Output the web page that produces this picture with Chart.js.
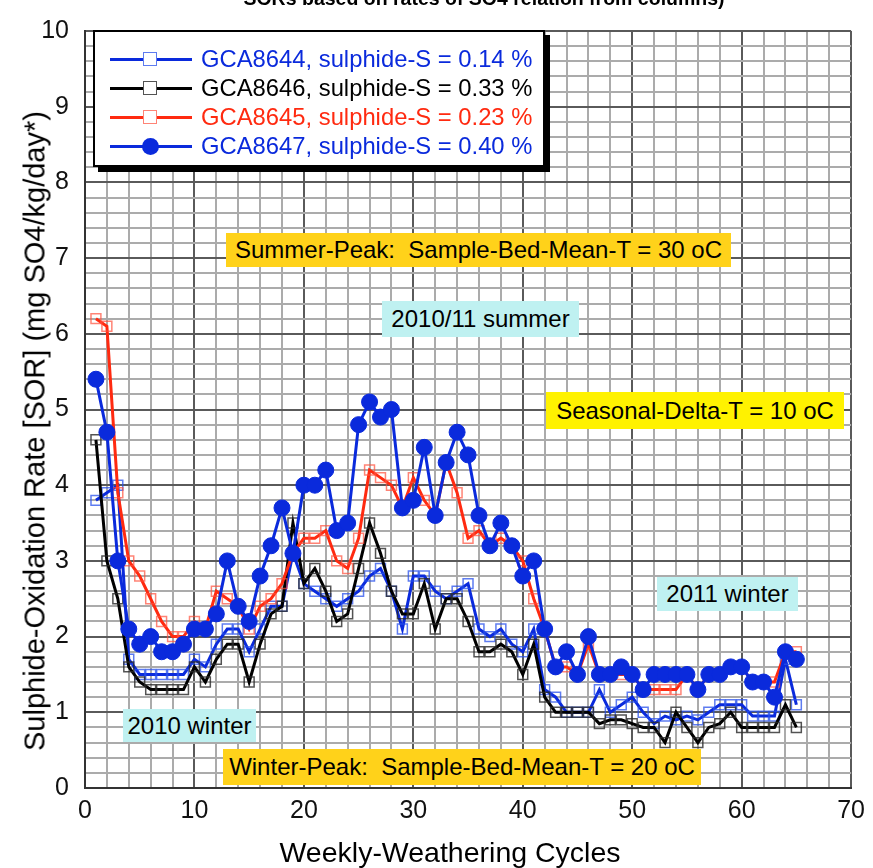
<!DOCTYPE html>
<html>
<head>
<meta charset="utf-8">
<title>Sulphide-Oxidation Rate</title>
<script src="https://cdn.jsdelivr.net/npm/chart.js@4.4.1/dist/chart.umd.min.js"></script>
<style>
body{margin:0;background:#fff;font-family:"Liberation Sans",Arial,sans-serif;}
#wrap{position:relative;width:873px;height:868px;overflow:hidden;background:#fff;}
#wrap canvas{position:absolute;left:0;top:0;}
.txt{position:absolute;white-space:pre;color:#000;}
.note{position:absolute;box-sizing:border-box;display:flex;align-items:center;justify-content:center;font-size:24px;color:#000;white-space:pre;}
#legend{position:absolute;left:93px;top:30px;width:452px;height:137px;box-sizing:border-box;border:2px solid #000;background:#fff;box-shadow:5px 5px 0 #000;}
.row{position:absolute;left:0;height:26px;font-size:23.8px;line-height:26px;white-space:pre;}
.ln{position:absolute;left:15px;width:82px;height:3px;top:12px;}
.mk{position:absolute;box-sizing:border-box;}
.lbl{position:absolute;left:106px;top:0;}
</style>
</head>
<body>
<div id="wrap">
  <canvas id="grafSOR" width="873" height="868"></canvas>
  <div class="txt" style="left:484px;top:-14px;transform:translateX(-50%);font-size:19.5px;font-weight:bold;line-height:24px;">SORs based on rates of SO4 relation from columns)</div>
  <div class="txt" style="left:35px;top:431px;transform:translate(-50%,-50%) rotate(-90deg);font-size:29px;">Sulphide-Oxidation Rate [SOR] (mg SO4/kg/day*)</div>
  <div class="txt" style="left:450px;top:852px;transform:translate(-50%,-50%);font-size:28.5px;">Weekly-Weathering Cycles</div>
  <div class="note" style="left:226px;top:233px;width:505px;height:34px;background:#ffd21a;">Summer-Peak:  Sample-Bed-Mean-T = 30 oC</div>
  <div class="note" style="left:382px;top:301px;width:197px;height:36px;background:#bff1f1;">2010/11 summer</div>
  <div class="note" style="left:546px;top:392px;width:298px;height:37px;background:#fff200;">Seasonal-Delta-T = 10 oC</div>
  <div class="note" style="left:657px;top:577px;width:141px;height:34px;background:#bff1f1;">2011 winter</div>
  <div class="note" style="left:123px;top:709px;width:133px;height:33px;background:#bff1f1;">2010 winter</div>
  <div class="note" style="left:223px;top:749px;width:478px;height:36px;background:#ffd21a;">Winter-Peak:  Sample-Bed-Mean-T = 20 oC</div>
  <div id="legend"></div>
</div>
<script>
/* =====================================
   DATOS
===================================== */

const ciclos = [
  1,2,3,4,5,6,7,8,9,10,11,12,13,14,15,16,17,18,19,20,
  21,22,23,24,25,26,27,28,29,30,31,32,33,34,35,36,37,38,39,40,
  41,42,43,44,45,46,47,48,49,50,51,52,53,54,55,56,57,58,59,60,
  61,62,63,64,65
];

// GCA8644, sulphide-S = 0.14 %
const sorGCA8644 = [
  3.8,3.9,4.0,1.7,1.5,1.5,1.5,1.5,1.5,1.7,1.6,1.9,2.1,2.1,1.8,2.1,2.4,2.4,3.1,2.7,
  2.6,2.5,2.4,2.5,2.6,2.8,2.9,2.6,2.1,2.8,2.8,2.6,2.5,2.6,2.7,2.1,2.0,2.1,1.9,1.8,
  2.1,1.3,1.2,1.0,1.0,1.0,1.3,1.0,1.1,1.2,1.0,0.85,0.95,0.9,0.95,0.9,1.0,1.1,1.1,1.1,
  0.95,0.95,0.95,1.7,1.1
];

// GCA8646, sulphide-S = 0.33 %
const sorGCA8646 = [
  4.6,3.0,2.5,1.6,1.4,1.3,1.3,1.3,1.3,1.6,1.4,1.7,1.9,1.9,1.4,1.9,2.3,2.4,3.5,2.7,
  2.9,2.6,2.2,2.3,2.9,3.5,3.1,2.6,2.3,2.3,2.7,2.1,2.5,2.5,2.2,1.8,1.8,1.9,1.8,1.5,
  1.9,1.2,1.0,1.0,1.0,1.0,0.85,0.9,0.9,0.85,0.8,0.8,0.6,1.0,0.8,0.6,0.8,0.85,1.0,0.8,
  0.8,0.8,0.8,1.1,0.8
];

// GCA8645, sulphide-S = 0.23 %
const sorGCA8645 = [
  6.2,6.1,3.9,3.0,2.8,2.5,2.2,2.0,2.0,2.2,2.1,2.6,2.5,2.4,2.1,2.4,2.5,2.7,3.1,3.3,
  3.3,3.4,3.0,2.9,3.3,4.2,4.1,4.0,3.7,4.1,3.8,3.6,4.3,3.9,3.3,3.4,3.2,3.3,3.2,3.0,
  2.5,2.1,1.6,1.6,1.5,1.9,1.5,1.5,1.5,1.5,1.3,1.3,1.3,1.3,1.5,1.3,1.5,1.5,1.6,1.6,
  1.4,1.4,1.4,1.8,1.8
];

// GCA8647, sulphide-S = 0.40 %
const sorGCA8647 = [
  5.4,4.7,3.0,2.1,1.9,2.0,1.8,1.8,1.9,2.1,2.1,2.3,3.0,2.4,2.2,2.8,3.2,3.7,3.1,4.0,
  4.0,4.2,3.4,3.5,4.8,5.1,4.9,5.0,3.7,3.8,4.5,3.6,4.3,4.7,4.4,3.6,3.2,3.5,3.2,2.8,
  3.0,2.1,1.6,1.8,1.5,2.0,1.5,1.5,1.6,1.5,1.3,1.5,1.5,1.5,1.5,1.3,1.5,1.5,1.6,1.6,
  1.4,1.4,1.2,1.8,1.7
];

const nombres = [
  "GCA8644, sulphide-S = 0.14 %",
  "GCA8646, sulphide-S = 0.33 %",
  "GCA8645, sulphide-S = 0.23 %",
  "GCA8647, sulphide-S = 0.40 %"
];

const AZUL = "#0a2adc";
const ROJO = "#ff2a10";

/* =====================================
   SERIES
===================================== */

function puntos(valores){
    return valores.map((v,i)=>({x:ciclos[i], y:v}));
}

const series = [
    {label:nombres[0], data:puntos(sorGCA8644), color:AZUL, texto:AZUL, marca:"rgba(40,80,235,0.75)", tipo:"rect", orden:3},
    {label:nombres[1], data:puntos(sorGCA8646), color:"#000", texto:"#000", marca:"rgba(40,40,40,0.8)", tipo:"rect", orden:2},
    {label:nombres[2], data:puntos(sorGCA8645), color:ROJO, texto:ROJO, marca:"rgba(255,80,60,0.7)", tipo:"rect", orden:1},
    {label:nombres[3], data:puntos(sorGCA8647), color:AZUL, texto:AZUL, marca:AZUL, tipo:"circle", orden:0}
];

/* =====================================
   LEYENDA
===================================== */

const leyenda = document.getElementById("legend");
const filasY = [14, 43, 72, 101];

series.forEach((s,i)=>{
    const fila = document.createElement("div");
    fila.className = "row";
    fila.style.top = filasY[i] + "px";
    fila.style.width = "445px";
    fila.style.color = s.texto;

    const ln = document.createElement("i");
    ln.className = "ln";
    ln.style.background = s.color;
    fila.appendChild(ln);

    const mk = document.createElement("i");
    mk.className = "mk";
    if(s.tipo === "circle"){
        mk.style.cssText += "left:47px;top:5px;width:17px;height:17px;border-radius:50%;background:"+s.marca+";";
    } else {
        mk.style.cssText += "left:48px;top:6px;width:14px;height:14px;background:#fff;border:1.5px solid "+s.marca+";";
    }
    fila.appendChild(mk);

    const lbl = document.createElement("span");
    lbl.className = "lbl";
    lbl.textContent = s.label;
    fila.appendChild(lbl);

    leyenda.appendChild(fila);
});

/* =====================================
   GRAFICA
===================================== */

function esEntero(v){
    return Math.abs(v - Math.round(v)) < 1e-6;
}

const chartSOR = new Chart(
    document.getElementById("grafSOR"),
    {
        type:"line",
        data:{
            datasets: series.map(s=>({
                label:s.label,
                data:s.data,
                borderColor:s.color,
                borderWidth:3,
                pointStyle:s.tipo,
                pointRadius:s.tipo === "circle" ? 8 : 7,
                pointBorderWidth:s.tipo === "circle" ? 1 : 1.5,
                pointBorderColor:s.marca,
                pointBackgroundColor:s.tipo === "circle" ? s.marca : "rgba(0,0,0,0)",
                tension:0,
                order:s.orden
            }))
        },
        options:{
            responsive:false,
            animation:false,
            layout:{padding:{top:18, right:18, left:0, bottom:0}},
            plugins:{
                legend:{display:false},
                tooltip:{enabled:false}
            },
            scales:{
                x:{
                    type:"linear",
                    min:0,
                    max:70,
                    afterFit:(scale)=>{ scale.height = 80; },
                    ticks:{
                        stepSize:2,
                        autoSkip:false,
                        maxRotation:0,
                        padding:8,
                        color:"#111",
                        font:{family:"Liberation Sans", size:25},
                        callback:(v)=> v % 10 === 0 ? String(v) : ""
                    },
                    grid:{
                        drawTicks:false,
                        lineWidth:2,
                        color:(ctx)=> ctx.tick && ctx.tick.value % 10 === 0 ? "#5a5a5a" : "#ababab"
                    },
                    border:{display:true, color:"#333", width:2}
                },
                y:{
                    min:0,
                    max:10,
                    afterFit:(scale)=>{ scale.width = 85; },
                    ticks:{
                        stepSize:0.2,
                        autoSkip:false,
                        padding:16,
                        color:"#111",
                        font:{family:"Liberation Sans", size:25},
                        callback:(v)=> esEntero(v) ? String(Math.round(v)) : ""
                    },
                    grid:{
                        drawTicks:false,
                        lineWidth:2,
                        color:(ctx)=> ctx.tick && esEntero(ctx.tick.value) ? "#5a5a5a" : "#ababab"
                    },
                    border:{display:true, color:"#333", width:2}
                }
            }
        }
    }
);
</script>
</body>
</html>
